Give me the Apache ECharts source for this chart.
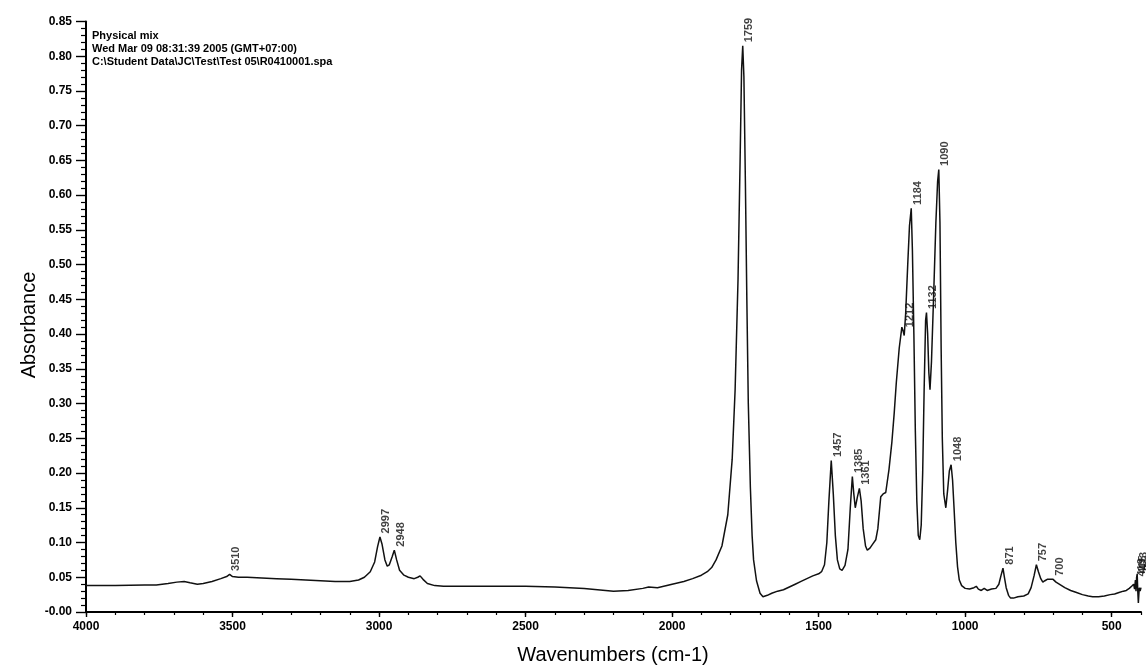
<!DOCTYPE html>
<html>
<head>
<meta charset="utf-8">
<script src="https://cdn.jsdelivr.net/npm/echarts@6/dist/echarts.min.js"></script>
<style>
  html, body { margin: 0; padding: 0; background: #fff; }
  #chart { width: 1146px; height: 665px; }
</style>
</head>
<body>
<div id="chart"></div>
<script>
// FTIR absorbance spectrum, wavenumber (cm-1) against absorbance
const wavenumber = [
  4000, 3950, 3900, 3850, 3800, 3760, 3720, 3690, 3665, 3645, 3620, 3600, 3570, 3540, 3520, 3510, 3500,
  3480, 3450, 3400, 3350, 3300, 3250, 3200, 3150, 3100, 3070, 3050, 3030, 3015, 3005, 2997, 2990, 2980,
  2972, 2965, 2955, 2948, 2940, 2930, 2915, 2900, 2880, 2868, 2860, 2850, 2835, 2810, 2780, 2700, 2600,
  2500, 2400, 2300, 2200, 2150, 2100, 2080, 2050, 2000, 1960, 1930, 1900, 1880, 1865, 1850, 1830, 1810,
  1795, 1785, 1775, 1768, 1763, 1759, 1755, 1750, 1745, 1740, 1733, 1727, 1722, 1712, 1700, 1690, 1675,
  1660, 1640, 1620, 1600, 1580, 1560, 1540, 1520, 1500, 1490, 1480, 1472, 1465, 1457, 1450, 1443, 1436,
  1428, 1420, 1410, 1400, 1392, 1385, 1380, 1375, 1368, 1361, 1355, 1348, 1340, 1334, 1325, 1315, 1305,
  1298, 1288, 1280, 1271, 1260, 1250, 1242, 1235, 1225, 1216, 1212, 1208, 1203, 1196, 1190, 1184, 1180,
  1175, 1170, 1165, 1160, 1155, 1150, 1145, 1140, 1135, 1132, 1128, 1124, 1120, 1115, 1108, 1100, 1094,
  1090, 1086, 1082, 1078, 1073, 1066, 1060, 1054, 1048, 1043, 1038, 1032, 1026, 1020, 1012, 1000, 985,
  970, 962, 955, 945, 935, 925, 910, 895, 885, 878, 871, 866, 860, 852, 845, 835, 820, 800, 785, 775,
  765, 757, 750, 742, 735, 728, 720, 712, 700, 690, 675, 660, 640, 620, 600, 580, 565, 545, 525, 505,
  490, 475, 460, 450, 440, 432, 428, 425, 422, 419, 417, 415, 413, 411, 409, 406, 403, 400
];
const absorbance = [
  0.038, 0.038, 0.038, 0.0385, 0.039, 0.039, 0.041, 0.043, 0.044, 0.042, 0.040, 0.041, 0.044, 0.048, 0.051, 0.054, 0.051,
  0.050, 0.050, 0.049, 0.048, 0.047, 0.046, 0.045, 0.044, 0.044, 0.046, 0.050, 0.058, 0.072, 0.094, 0.108, 0.098, 0.075,
  0.066, 0.068, 0.080, 0.089, 0.075, 0.060, 0.053, 0.050, 0.048, 0.050, 0.052, 0.047, 0.041, 0.038, 0.037, 0.037, 0.037,
  0.037, 0.036, 0.034, 0.030, 0.031, 0.034, 0.036, 0.035, 0.040, 0.044, 0.048, 0.053, 0.058, 0.064, 0.075, 0.095, 0.140,
  0.220, 0.320, 0.480, 0.650, 0.780, 0.815, 0.770, 0.620, 0.450, 0.300, 0.180, 0.110, 0.075, 0.045, 0.027, 0.022, 0.024,
  0.027, 0.030, 0.032, 0.036, 0.040, 0.044, 0.048, 0.052, 0.055, 0.058, 0.068, 0.100, 0.160, 0.218, 0.170, 0.110, 0.075,
  0.062, 0.060, 0.067, 0.090, 0.150, 0.195, 0.170, 0.150, 0.165, 0.178, 0.160, 0.120, 0.095, 0.089, 0.092, 0.098, 0.104,
  0.120, 0.166, 0.170, 0.172, 0.205, 0.245, 0.287, 0.330, 0.380, 0.410, 0.405, 0.398, 0.430, 0.500, 0.556, 0.581, 0.520,
  0.400, 0.260, 0.160, 0.110, 0.104, 0.125, 0.200, 0.320, 0.420, 0.431, 0.400, 0.345, 0.320, 0.360, 0.450, 0.560, 0.620,
  0.637, 0.560, 0.380, 0.250, 0.170, 0.150, 0.175, 0.203, 0.212, 0.190, 0.150, 0.100, 0.065, 0.046, 0.038, 0.034, 0.033,
  0.035, 0.037, 0.033, 0.031, 0.034, 0.031, 0.033, 0.034, 0.040, 0.052, 0.063, 0.050, 0.035, 0.024, 0.020, 0.020, 0.022, 0.023, 0.026, 0.035,
  0.052, 0.068, 0.058, 0.048, 0.043, 0.045, 0.047, 0.047, 0.047, 0.043, 0.039, 0.035, 0.031, 0.028, 0.025, 0.023, 0.022, 0.022, 0.023, 0.025,
  0.026, 0.028, 0.030, 0.031, 0.034, 0.037, 0.036, 0.040, 0.033, 0.046, 0.030, 0.050, 0.055, 0.030, 0.013, 0.035, 0.030, 0.035
];

// Peaks picked on the spectrum (labelled with their wavenumber)
const peakWavenumbers = [3510, 2997, 2948, 1759, 1457, 1385, 1361, 1212, 1184, 1132, 1090, 1048, 871, 757, 700, 419, 415, 413];

// Major wavenumber ticks
const xTickValues = [500, 1000, 1500, 2000, 2500, 3000, 3500, 4000];

// Sample header
const headerLines = [
  'Physical mix',
  'Wed Mar 09 08:31:39 2005 (GMT+07:00)',
  'C:\\Student Data\\JC\\Test\\Test 05\\R0410001.spa'
];

const FONT = "'Liberation Sans', Arial, Helvetica, sans-serif";

const spectrum = wavenumber.map((w, i) => [w, absorbance[i]]);
const peaks = peakWavenumbers.map(w => [w, absorbance[wavenumber.indexOf(w)]]);

const chart = echarts.init(document.getElementById('chart'), null, { renderer: 'canvas' });

const option = {
  animation: false,
  backgroundColor: '#ffffff',
  grid: { left: 86, right: 5, top: 21.5, bottom: 53, containLabel: false },
  xAxis: [
    {
      type: 'value', position: 'bottom', min: 400, max: 4000, inverse: true, interval: 100,
      axisLine: { show: true, lineStyle: { color: '#000', width: 2 } },
      axisTick: { show: true, length: 3, lineStyle: { color: '#000', width: 1.2 } },
      axisLabel: { show: false },
      splitLine: { show: false }
    },
    {
      type: 'value', position: 'bottom', min: 400, max: 4000, inverse: true,
      axisLine: { show: false },
      axisTick: { show: true, customValues: xTickValues, length: 5, lineStyle: { color: '#000', width: 1.4 } },
      axisLabel: {
        show: true, customValues: xTickValues, margin: 9,
        formatter: v => String(Math.round(v)),
        fontSize: 12, fontWeight: 'bold', color: '#000', fontFamily: FONT
      },
      splitLine: { show: false }
    }
  ],
  yAxis: {
    type: 'value', min: 0, max: 0.85, interval: 0.05,
    axisLine: { show: true, lineStyle: { color: '#000', width: 2 } },
    axisTick: { show: true, length: 10, lineStyle: { color: '#000', width: 1.4 } },
    minorTick: { show: true, splitNumber: 5, length: 5, lineStyle: { color: '#000', width: 1.2 } },
    axisLabel: {
      margin: 14, fontSize: 12, fontWeight: 'bold', color: '#000', fontFamily: FONT,
      formatter: v => (Math.abs(v) < 1e-9 ? '-0.00' : v.toFixed(2))
    },
    splitLine: { show: false }
  },
  series: [
    {
      type: 'line', xAxisIndex: 0, data: spectrum, symbol: 'none', silent: true,
      lineStyle: { color: '#111', width: 1.5 }
    },
    {
      type: 'scatter', xAxisIndex: 0, data: peaks, symbolSize: 1, silent: true,
      itemStyle: { color: 'rgba(0,0,0,0)' },
      label: {
        show: true, rotate: 90, position: [7, -3], align: 'left', verticalAlign: 'middle',
        formatter: p => String(p.value[0]),
        fontSize: 11, fontWeight: 'bold', color: '#111', fontFamily: FONT
      }
    }
  ],
  graphic: [
    {
      type: 'text', left: 92, top: 29,
      style: { text: headerLines.join('\n'), font: 'bold 11px ' + FONT, lineHeight: 13, fill: '#000' }
    },
    {
      type: 'text', x: 613, y: 655,
      style: { text: 'Wavenumbers (cm-1)', font: '20px ' + FONT, fill: '#000', align: 'center', verticalAlign: 'middle' }
    },
    {
      type: 'text', x: 29, y: 325, rotation: Math.PI / 2,
      style: { text: 'Absorbance', font: '20px ' + FONT, fill: '#000', align: 'center', verticalAlign: 'middle' }
    }
  ]
};

chart.setOption(option);
</script>
</body>
</html>
